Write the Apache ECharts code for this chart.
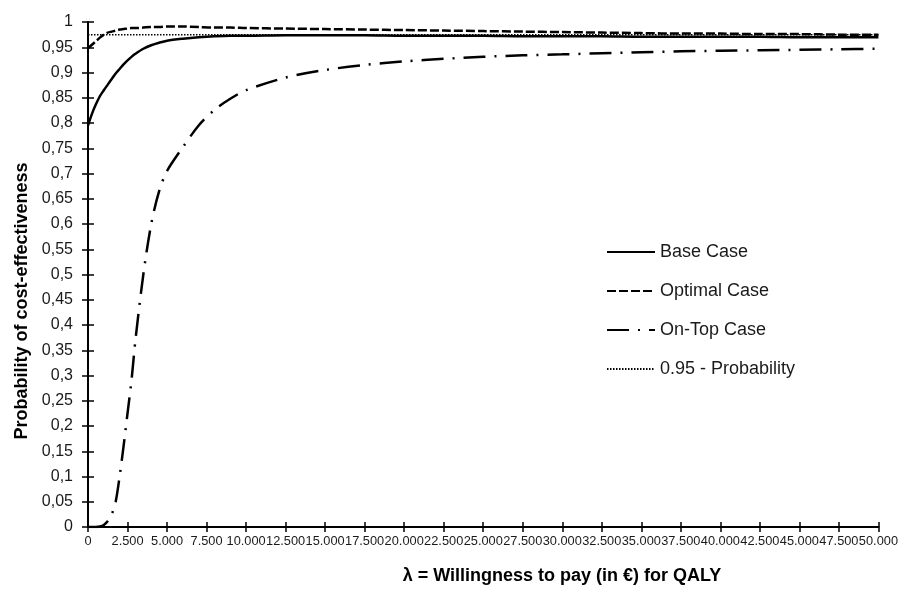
<!DOCTYPE html>
<html>
<head>
<meta charset="utf-8">
<script src="https://cdn.jsdelivr.net/npm/echarts@6/dist/echarts.min.js"></script>
<style>html,body{margin:0;padding:0;background:#fff}#c{width:901px;height:589px}</style>
</head>
<body>
<div id="c"></div>
<script>
const wtp = [0,250,500,750,1000,1250,1500,1750,2000,2250,2500,2750,3000,3500,4000,4500,5000,6000,7000,8000,9000,10000,12500,15000,17500,20000,22500,25000,27500,30000,32500,35000,37500,40000,42500,45000,47500,50000];
const baseCase = [0.795,0.818,0.837,0.853,0.865,0.876,0.887,0.898,0.907,0.916,0.924,0.931,0.937,0.947,0.954,0.959,0.963,0.967,0.970,0.972,0.973,0.973,0.974,0.974,0.974,0.973,0.973,0.973,0.972,0.972,0.972,0.971,0.971,0.971,0.971,0.970,0.970,0.970];
const optimalCase = [0.948,0.955,0.962,0.969,0.975,0.979,0.981,0.983,0.985,0.986,0.987,0.988,0.988,0.989,0.990,0.990,0.991,0.991,0.990,0.989,0.989,0.988,0.987,0.986,0.985,0.984,0.983,0.982,0.981,0.980,0.979,0.978,0.977,0.977,0.976,0.976,0.975,0.975];
const onTopCase = [0,0,0,0.001,0.004,0.012,0.025,0.05,0.1,0.16,0.225,0.29,0.37,0.5,0.6,0.665,0.705,0.752,0.795,0.826,0.848,0.865,0.89,0.905,0.915,0.922,0.927,0.931,0.934,0.936,0.938,0.940,0.942,0.943,0.944,0.945,0.946,0.947];
const threshold = 0.975;
const seriesNames = ['Base Case','Optimal Case','On-Top Case','0.95 - Probability'];
const xTitle = 'λ = Willingness to pay (in €) for QALY';
const yTitle = 'Probability of cost-effectiveness';

const font = "'Liberation Sans', Arial, sans-serif";
const pair = ys => wtp.map((x,i)=>[x, ys[i]]);
const fmtX = v => v === 0 ? '0' : (Math.floor(v/1000) + '.' + String(v%1000).padStart(3,'0'));
const fmtY = v => String(Math.round(v*100)/100).replace('.', ',');

const axisCommonX = {type:'value', min:0, max:50000, interval:2500, position:'bottom', splitLine:{show:false}};
const axisCommonY = {type:'value', min:0, max:1, interval:0.05, position:'left', splitLine:{show:false}};

const chart = echarts.init(document.getElementById('c'));
chart.setOption({
  animation:false,
  backgroundColor:'#fff',
  grid:{left:88, right:19, top:22, bottom:62},
  legend:{
    orient:'vertical', left:601, top:238, itemWidth:48, itemHeight:14, itemGap:21,
    data:seriesNames,
    itemStyle:{opacity:0, color:'transparent', borderColor:'transparent', borderWidth:0},
    textStyle:{fontFamily:font, fontSize:18, color:'#1a1a1a'}
  },
  xAxis:[
    Object.assign({}, axisCommonX, {
      axisLine:{lineStyle:{color:'#000', width:2}},
      axisTick:{show:true, inside:false, length:5, lineStyle:{color:'#000', width:1.5}},
      axisLabel:{interval:0, hideOverlap:false, showMaxLabel:true, showMinLabel:true, margin:8, formatter:fmtX, fontFamily:font, fontSize:12.8, color:'#1a1a1a'}
    }),
    Object.assign({}, axisCommonX, {
      axisLine:{show:false},
      axisTick:{show:true, inside:true, length:5, lineStyle:{color:'#000', width:1.5}},
      axisLabel:{show:false}
    })
  ],
  yAxis:[
    Object.assign({}, axisCommonY, {
      axisLine:{show:true, lineStyle:{color:'#000', width:2}},
      axisTick:{show:true, inside:false, length:6, lineStyle:{color:'#000', width:1.5}},
      axisLabel:{interval:0, margin:15, formatter:fmtY, fontFamily:font, fontSize:16, color:'#1a1a1a'}
    }),
    Object.assign({}, axisCommonY, {
      axisLine:{show:false},
      axisTick:{show:true, inside:true, length:6, lineStyle:{color:'#000', width:1.5}},
      axisLabel:{show:false}
    })
  ],
  graphic:[
    {type:'text', x:562, y:576, style:{text:xTitle, textAlign:'center', textVerticalAlign:'middle', font:"bold 18px "+font, fill:'#000'}},
    {type:'text', x:22, y:301, rotation:Math.PI/2, style:{text:yTitle, textAlign:'center', textVerticalAlign:'middle', font:"bold 18px "+font, fill:'#000'}}
  ],
  series:[
    {name:seriesNames[0], type:'line', data:pair(baseCase), smooth:0.3, symbol:'none', lineStyle:{color:'#000', width:2.5, type:'solid'}, itemStyle:{color:'#000'}},
    {name:seriesNames[1], type:'line', data:pair(optimalCase), smooth:0.3, symbol:'none', lineStyle:{color:'#000', width:2.5, type:[9,3]}, itemStyle:{color:'#000'}},
    {name:seriesNames[2], type:'line', data:pair(onTopCase), smooth:0.3, symbol:'none', lineStyle:{color:'#000', width:2.5, type:[22,9,2,9]}, itemStyle:{color:'#000'}},
    {name:seriesNames[3], type:'line', data:wtp.map(x=>[x, threshold]), symbol:'none', lineStyle:{color:'#000', width:1.5, type:[1.5,1.5]}, itemStyle:{color:'#000'}}
  ]
});
</script>
</body>
</html>
